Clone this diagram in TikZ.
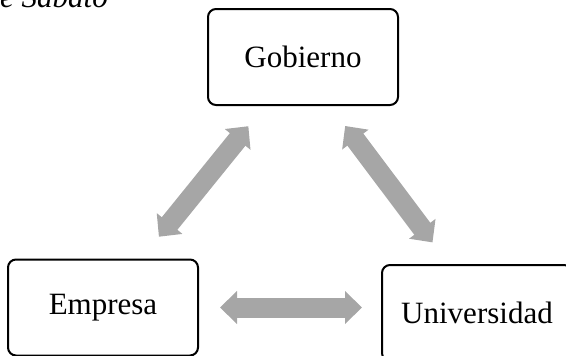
\documentclass[tikz,border=0pt]{standalone}
\usepackage{fontspec}
\setmainfont{Liberation Serif}
\usetikzlibrary{arrows.meta}
\definecolor{grisflecha}{HTML}{A6A6A6}
\begin{document}
\begin{tikzpicture}[x=1pt, y=-1pt,
    caja/.style={draw, rounded corners=8pt, line width=2pt,
        minimum width=190pt, minimum height=96pt,
        font=\fontsize{31}{36}\selectfont},
    flecha/.style={draw=grisflecha, line width=20pt,
        {Triangle[width=32pt,length=17pt]}-{Triangle[width=32pt,length=17pt]}}]
    % Rahmen
    \useasboundingbox (0,0) rectangle (566,356);
    \clip (0,0) rectangle (566,356);

    % Titel (oben abgeschnitten)
    \node[anchor=base west, inner sep=0pt, font=\fontsize{31}{36}\selectfont\itshape]
        (titulo) at (0,8) {e Sabato};

    % Kaesten
    \node[caja] (gob) at (303,57) {Gobierno};
    \node[caja] (emp) at (103,307.5) {Empresa};
    \node[caja] (uni) at (477,313) {Universidad};

    % Pfeile
    \draw[flecha, shorten <=28pt, shorten >=26pt] (emp.52) -- (gob.232.6);
    \draw[flecha, shorten <=25pt, shorten >=27pt] (gob.299.5) -- (uni.120.3);
    \draw[flecha, shorten <=21pt, shorten >=19pt] (emp.east) -- (emp.east -| uni.west);
\end{tikzpicture}
\end{document}
